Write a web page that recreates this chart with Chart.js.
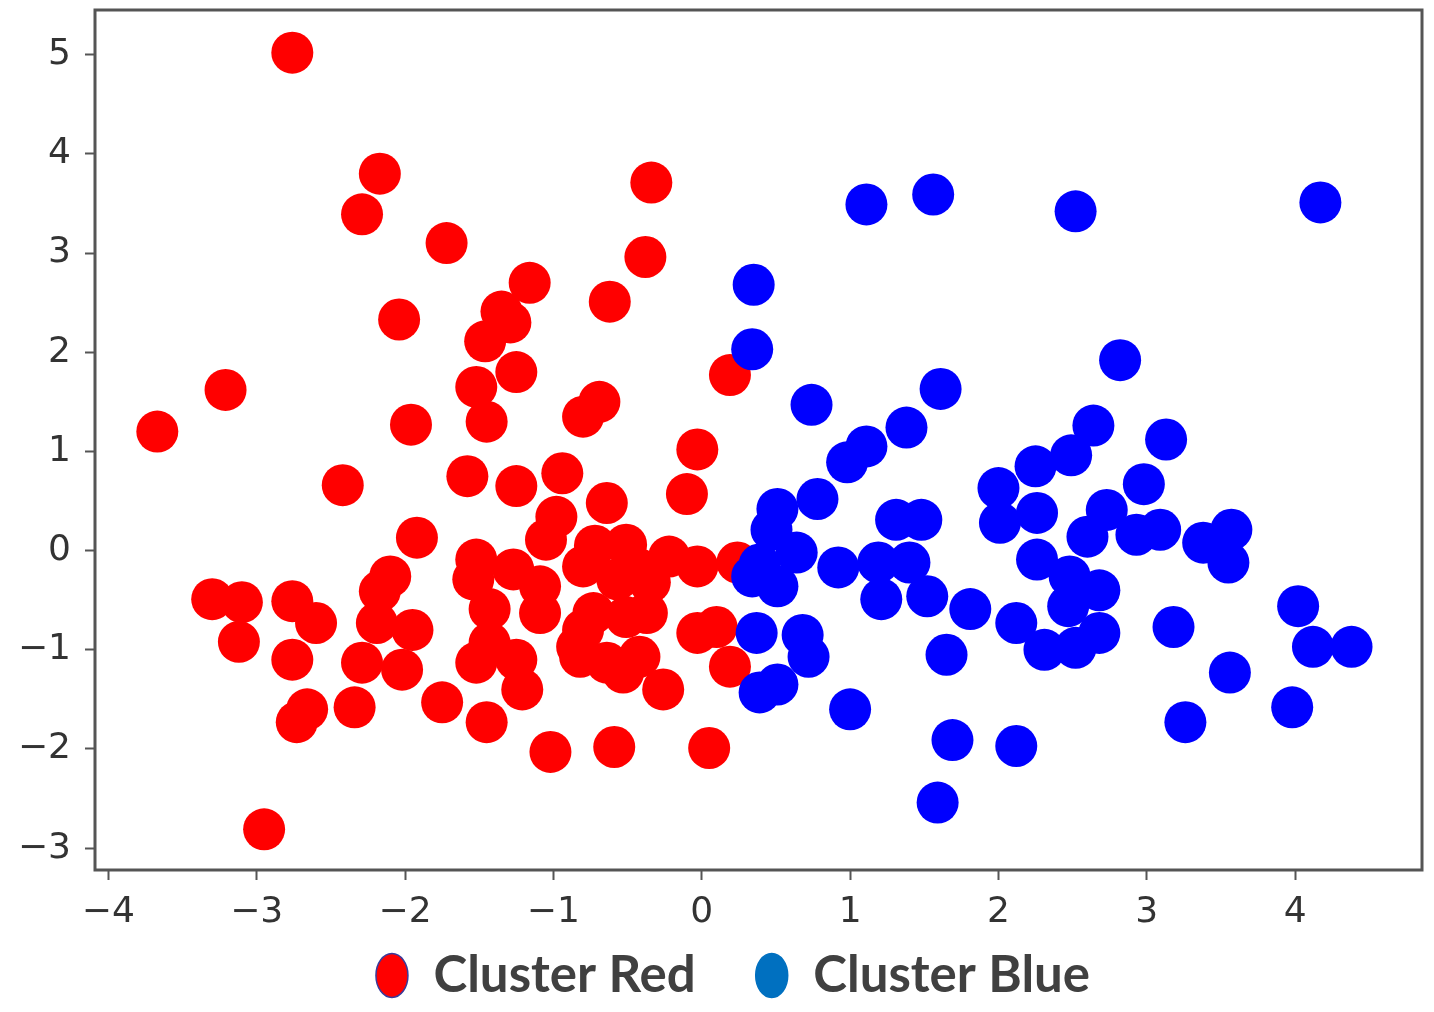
<!DOCTYPE html>
<html>
<head>
<meta charset="utf-8">
<title>Clusters</title>
<script src="https://cdn.jsdelivr.net/npm/chart.js@4.4.1/dist/chart.umd.min.js"></script>
<style>
    html, body { margin: 0; padding: 0; background: #fff; }
    #wrap { width: 1434px; height: 1012px; }
</style>
</head>
<body>
<div id="wrap"><canvas id="chartClusters" width="1434" height="1012"></canvas></div>
<script>
/**
 * Cluster Red
 */
const redX = [
    -2.76, -2.17, -2.29, -1.72, -0.34, -0.38, -1.16, -2.04, -0.62, -1.35,
    -1.29, -1.46, -1.25, -1.52, -1.45, -1.96, -0.80, -0.69, 0.19, -0.03,
    -3.21, -3.67, -2.42, -1.58, -1.25, -0.94, -0.64, -0.10, -1.92,
    -3.30, -3.10, -3.12, -2.76, -2.60, -2.76, -2.66, -2.73, -2.34, -2.10,
    -2.17, -2.19, -2.29, -1.95, -2.02, -1.75, -2.95,
    -1.52, -1.54, -1.27, -1.09, -0.98, -1.05, -1.43, -1.09, -1.43, -1.25,
    -1.52, -1.21, -1.45, -1.02, -0.80, -0.80, -0.82,
    -0.51, -0.42, -0.22, -0.03, 0.24, -0.57, -0.35, -0.73, -0.51, -0.37,
    -0.84, -0.64, -0.53, -0.42, -0.26, -0.03, 0.10, 0.19, -0.59, 0.05, -0.72
];
const redY = [
    5.02, 3.80, 3.39, 3.10, 3.71, 2.96, 2.70, 2.33, 2.51, 2.41,
    2.30, 2.11, 1.80, 1.65, 1.30, 1.27, 1.35, 1.50, 1.77, 1.02,
    1.62, 1.20, 0.66, 0.75, 0.65, 0.78, 0.48, 0.57, 0.13,
    -0.49, -0.52, -0.92, -0.51, -0.73, -1.10, -1.60, -1.73, -1.58, -0.26,
    -0.41, -0.73, -1.13, -0.80, -1.20, -1.53, -2.81,
    -0.09, -0.29, -0.19, -0.36, 0.34, 0.11, -0.59, -0.63, -0.93, -1.10,
    -1.13, -1.40, -1.73, -2.03, -0.16, -0.80, -1.07,
    0.06, -0.19, -0.06, -0.16, -0.12, -0.29, -0.32, -0.63, -0.67, -0.63,
    -0.97, -1.13, -1.23, -1.07, -1.40, -0.83, -0.77, -1.17, -1.98, -1.99, 0.05
];

/**
 * Cluster Blue
 */
const blueX = [
    1.11, 1.56, 2.52, 4.17, 0.35, 0.34, 2.82, 1.61, 0.74, 1.38,
    1.11, 0.98, 2.64, 3.13, 2.25, 2.49, 2.98, 2.00, 0.78, 0.51,
    0.47, 0.64, 0.39, 0.51, 0.34, 0.92, 1.31, 1.48, 1.19, 1.40,
    1.21, 1.52, 1.81, 1.65, 0.37, 0.68, 0.72, 0.39, 0.51, 1.00,
    1.69, 2.12, 1.59, 2.01, 2.26, 2.73, 2.60, 2.93, 3.09, 3.38,
    3.57, 3.55, 2.26, 2.48, 2.68, 2.47, 2.68, 2.52, 2.31, 2.12,
    3.18, 4.02, 4.12, 4.38, 3.56, 3.98, 3.26
];
const blueY = [
    3.49, 3.59, 3.42, 3.51, 2.68, 2.03, 1.92, 1.63, 1.47, 1.24,
    1.05, 0.89, 1.26, 1.12, 0.85, 0.96, 0.67, 0.63, 0.52, 0.42,
    0.21, -0.02, -0.14, -0.36, -0.26, -0.17, 0.31, 0.31, -0.12, -0.12,
    -0.49, -0.46, -0.59, -1.05, -0.83, -0.85, -1.07, -1.43, -1.35, -1.60,
    -1.91, -1.97, -2.54, 0.28, 0.38, 0.41, 0.14, 0.16, 0.21, 0.08,
    0.21, -0.12, -0.09, -0.26, -0.40, -0.56, -0.83, -0.98, -1.00, -0.73,
    -0.77, -0.56, -0.97, -0.97, -1.23, -1.58, -1.73
];

/**
 * Ticks
 */
const xTicks = [-4, -3, -2, -1, 0, 1, 2, 3, 4];
const yTicks = [-3, -2, -1, 0, 1, 2, 3, 4, 5];

/**
 * Colours
 */
const pointColors = ['#ff0000', '#0000ff'];
const legendColors = ['#ff0000', '#0070c0'];
const legendBorders = ['#3a3a9a', '#0070c0'];

/**
 * Helpers
 */
const toPoints = (xs, ys) => xs.map((x, i) => ({ x: x, y: ys[i] }));
const minus = v => (v < 0 ? '\u2212' + Math.abs(v) : String(v));

/**
 * Frame round the plot
 */
const frame = {
    id: 'frame',
    afterDatasetsDraw(chart) {
        const { ctx, chartArea: a } = chart;
        ctx.save();
        ctx.strokeStyle = '#555';
        ctx.lineWidth = 3;
        ctx.strokeRect(a.left, a.top, a.right - a.left, a.bottom - a.top);
        ctx.restore();
    }
};

/**
 * Legend: keep its layout box short, then let it reach up and nudge it right
 */
const legendSpot = {
    id: 'legendSpot',
    beforeInit(chart) {
        const fit = chart.legend.fit;
        chart.legend.fit = function () {
            fit.call(this);
            this.height = 82;
        };
    },
    afterLayout(chart) {
        const l = chart.legend;
        l.top -= 40;
        l.left += 22;
        l.right += 22;
    }
};

const tickFont = { family: 'DejaVu Sans', size: 36 };

new Chart(document.getElementById('chartClusters'), {
    type: 'scatter',
    data: {
        datasets: [
            {
                label: 'Cluster Red',
                data: toPoints(redX, redY),
                backgroundColor: pointColors[0],
                borderWidth: 0,
                pointRadius: 21,
                order: 1
            },
            {
                label: 'Cluster Blue',
                data: toPoints(blueX, blueY),
                backgroundColor: pointColors[1],
                borderWidth: 0,
                pointRadius: 21,
                order: 0
            }
        ]
    },
    options: {
        responsive: false,
        animation: false,
        events: [],
        layout: { autoPadding: false, padding: { top: 10, right: 12, left: 0, bottom: 0 } },
        scales: {
            x: {
                type: 'linear',
                min: -4.09,
                max: 4.855,
                afterBuildTicks: s => { s.ticks = xTicks.map(v => ({ value: v })); },
                afterFit: s => { s.height = 60; s.paddingLeft = 0; s.paddingRight = 0; },
                grid: { drawOnChartArea: false, tickLength: 10, tickColor: '#555', tickWidth: 2 },
                border: { display: false },
                ticks: { color: '#333', font: tickFont, padding: 11, maxRotation: 0, autoSkip: false, callback: minus }
            },
            y: {
                type: 'linear',
                min: -3.22,
                max: 5.45,
                afterBuildTicks: s => { s.ticks = yTicks.map(v => ({ value: v })); },
                afterFit: s => { s.width = 95; s.paddingTop = 0; s.paddingBottom = 0; },
                grid: { drawOnChartArea: false, tickLength: 10, tickColor: '#555', tickWidth: 2 },
                border: { display: false },
                ticks: { color: '#333', font: tickFont, padding: 14, autoSkip: false, callback: minus }
            }
        },
        plugins: {
            tooltip: { enabled: false },
            legend: {
                position: 'bottom',
                labels: {
                    usePointStyle: true,
                    pointStyle: 'circle',
                    pointStyleWidth: 32,
                    boxHeight: 31,
                    padding: 60,
                    color: '#404040',
                    font: { family: 'Lato', size: 51, weight: 'bold' },
                    sort: (a, b) => a.datasetIndex - b.datasetIndex,
                    generateLabels: chart => Chart.defaults.plugins.legend.labels.generateLabels(chart).map(l => Object.assign(l, {
                        fillStyle: legendColors[l.datasetIndex],
                        strokeStyle: legendBorders[l.datasetIndex],
                        lineWidth: 1.5
                    }))
                }
            }
        }
    },
    plugins: [frame, legendSpot]
});
</script>
</body>
</html>
